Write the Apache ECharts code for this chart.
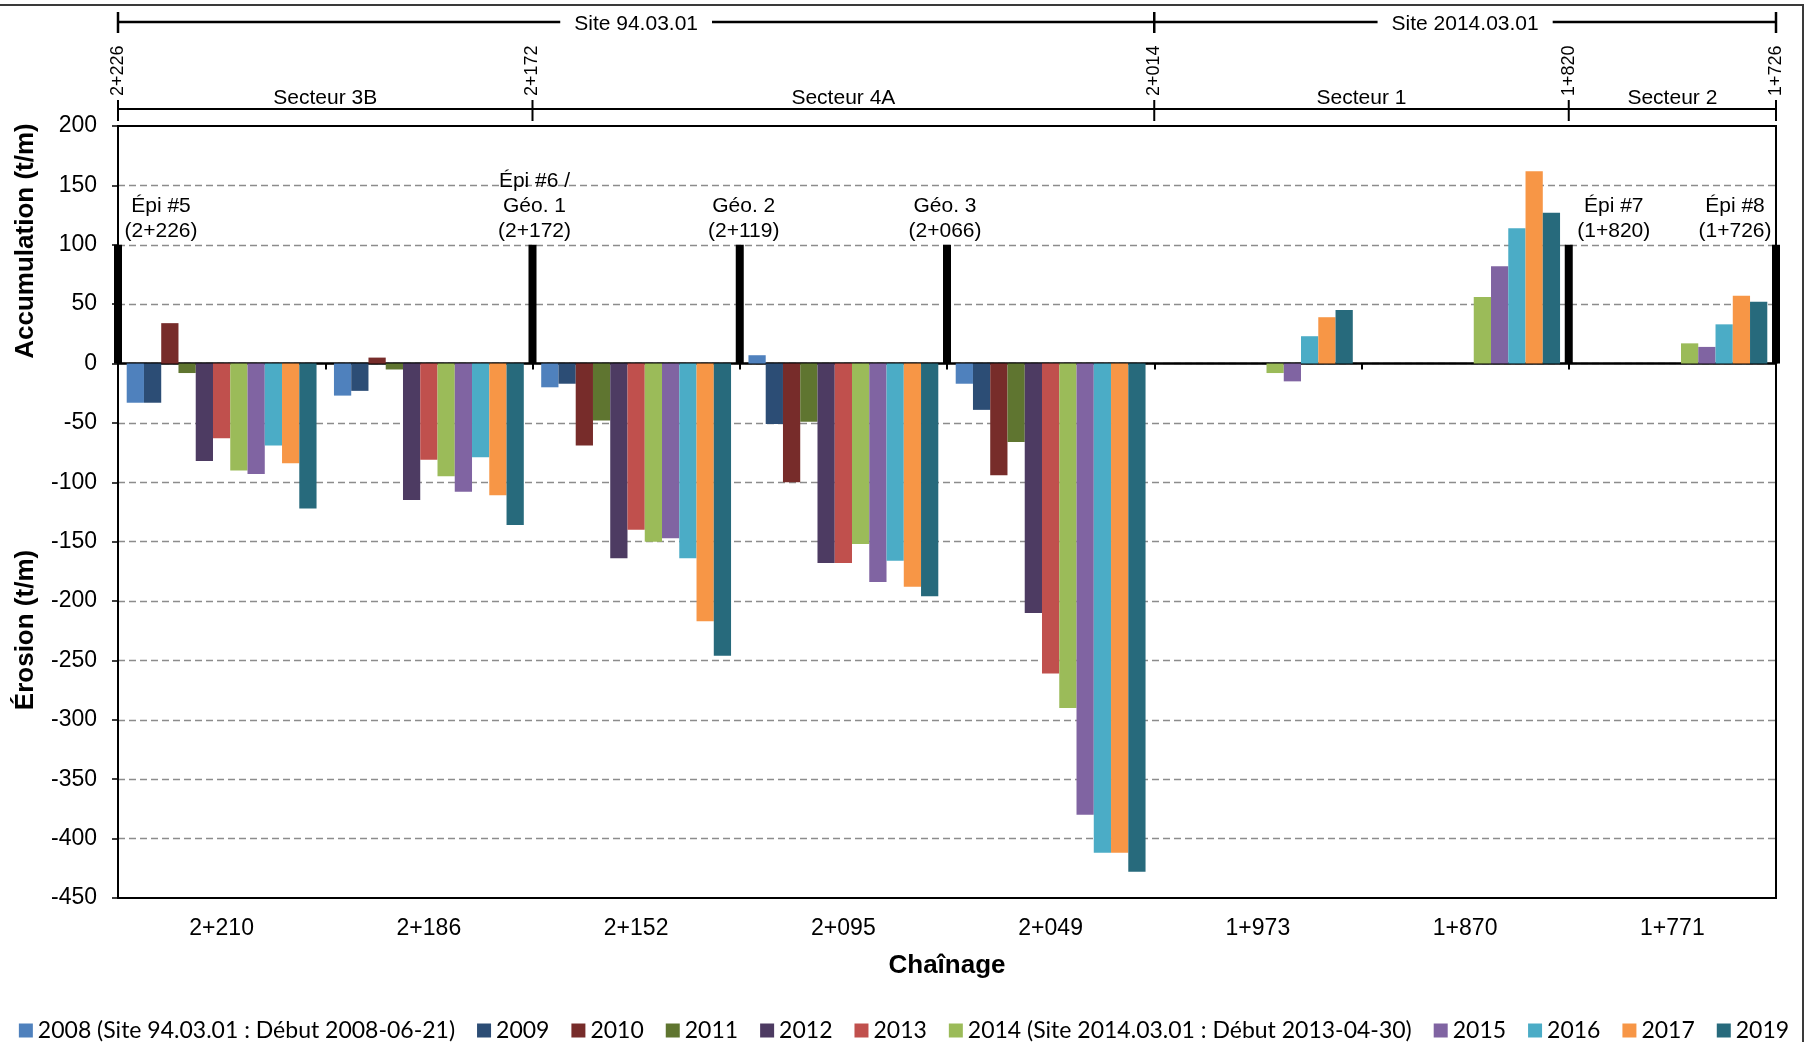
<!DOCTYPE html>
<html>
<head>
<meta charset="utf-8">
<script src="https://cdn.jsdelivr.net/npm/echarts@6/dist/echarts.min.js"></script>
<style>
html, body { margin: 0; padding: 0; background: #fff; }
#chart { width: 1808px; height: 1042px; }
</style>
</head>
<body>
<div id="chart"></div>
<script>
// chaînages (catégories)
var categories = ['2+210', '2+186', '2+152', '2+095', '2+049', '1+973', '1+870', '1+771'];

var years = ['2008 (Site 94.03.01 : Début 2008-06-21)', '2009', '2010', '2011', '2012', '2013',
    '2014 (Site 2014.03.01 : Début 2013-04-30)', '2015', '2016', '2017', '2019'];

// bilans sédimentaires (t/m)
var v2008 = [-33, -27, -20, 7, -17, null, null, null];
var v2009 = [-33, -23, -17, -51, -39, null, null, null];
var v2010 = [34, 5, -69, -100, -94, null, null, null];
var v2011 = [-8, -5, -48, -49, -66, null, null, null];
var v2012 = [-82, -115, -164, -168, -210, null, null, null];
var v2013 = [-63, -81, -140, -168, -261, null, null, null];
var v2014 = [-90, -95, -150, -152, -290, -8, 56, 17];
var v2015 = [-93, -108, -147, -184, -380, -15, 82, 14];
var v2016 = [-69, -79, -164, -166, -412, 23, 114, 33];
var v2017 = [-84, -111, -217, -188, -412, 39, 162, 57];
var v2019 = [-122, -136, -246, -196, -428, 45, 127, 52];
var values = [v2008, v2009, v2010, v2011, v2012, v2013, v2014, v2015, v2016, v2017, v2019];

// axe vertical
var yMin = -450, yMax = 200, yStep = 50;

// ouvrages (position en limites de catégories) et libellés
var markerPos = [0, 2, 3, 4, 7, 8];
var markerTop = [100, 100, 100, 100, 100, 100];
var markerLabels = ['Épi #5\n(2+226)', 'Épi #6 /\nGéo. 1\n(2+172)', 'Géo. 2\n(2+119)',
    'Géo. 3\n(2+066)', 'Épi #7\n(1+820)', 'Épi #8\n(1+726)'];

// en-tête : chaînages de limites, secteurs, sites
var limitPos = [0, 2, 5, 7, 8];
var limitLabels = ['2+226', '2+172', '2+014', '1+820', '1+726'];
var sectorNames = ['Secteur 3B', 'Secteur 4A', 'Secteur 1', 'Secteur 2'];
var sectorFrom = [0, 2, 5, 7];
var sectorTo = [2, 5, 7, 8];
var siteNames = ['Site 94.03.01', 'Site 2014.03.01'];
var siteFrom = [0, 5];
var siteTo = [5, 8];

var palette = ['#4F81BD', '#2C4D75', '#772C2A', '#5F7530', '#4D3B62', '#C0504D',
    '#9BBB59', '#8064A2', '#4BACC6', '#F79646', '#276A7C'];
var labelDx = [43, 2, 4, -2, 45, -41];

var FONT = '"Liberation Sans", Arial, sans-serif';

var myChart = echarts.init(document.getElementById('chart'));

var series = values.map(function (arr, i) {
    return {
        name: years[i],
        type: 'bar',
        xAxisIndex: 0,
        yAxisIndex: 0,
        barGap: '0%',
        barCategoryGap: '8.4%',
        data: arr,
        itemStyle: { color: palette[i] },
        emphasis: { disabled: true }
    };
});

series.push({
    type: 'custom',
    xAxisIndex: 2,
    yAxisIndex: 0,
    z: 10,
    silent: true,
    data: markerPos.map(function (p, i) { return [p, markerTop[i]]; }),
    renderItem: function (params, api) {
        var i = params.dataIndex;
        var top = api.coord([api.value(0), api.value(1)]);
        var base = api.coord([api.value(0), 0]);
        return {
            type: 'group',
            children: [
                {
                    type: 'rect',
                    shape: { x: top[0] - 4, y: top[1], width: 8, height: base[1] - top[1] },
                    style: { fill: '#000' }
                },
                {
                    type: 'text',
                    x: top[0] + labelDx[i],
                    y: top[1] - 1,
                    style: {
                        text: markerLabels[i],
                        align: 'center', textAlign: 'center',
                        verticalAlign: 'bottom', textVerticalAlign: 'bottom',
                        font: '21px ' + FONT,
                        lineHeight: 25,
                        fill: '#000'
                    }
                }
            ]
        };
    }
});

var option = {
    animation: false,
    backgroundColor: '#fff',
    textStyle: { fontFamily: FONT },
    grid: {
        left: 118, right: 32, top: 126, bottom: 144,
        containLabel: false,
        outerBoundsMode: 'none',
        show: true,
        borderColor: '#000',
        borderWidth: 2,
        backgroundColor: 'transparent'
    },
    legend: {
        data: years,
        left: 'center',
        top: 1014,
        icon: 'rect',
        itemWidth: 14,
        itemHeight: 14,
        itemGap: 22,
        selectedMode: false,
        textStyle: { fontFamily: 'Lato', fontSize: 23, color: '#000' }
    },
    xAxis: [
        {
            type: 'category',
            data: categories,
            position: 'bottom',
            axisLine: { onZero: true, lineStyle: { color: '#000', width: 2.5 } },
            axisTick: { show: true, length: 6, lineStyle: { color: '#000', width: 2 } },
            axisLabel: { show: false },
            splitLine: { show: false }
        },
        {
            type: 'category',
            data: categories,
            position: 'bottom',
            name: 'Chaînage',
            nameLocation: 'middle',
            nameGap: 55,
            nameTextStyle: { fontSize: 26, fontWeight: 'bold', color: '#000', fontFamily: FONT },
            axisLine: { onZero: false, lineStyle: { color: '#000', width: 2 } },
            axisTick: { show: false },
            axisLabel: { fontSize: 23, color: '#000', margin: 19, fontFamily: FONT },
            splitLine: { show: false }
        },
        {
            type: 'value',
            min: 0,
            max: 8,
            show: false
        }
    ],
    yAxis: {
        type: 'value',
        min: yMin,
        max: yMax,
        interval: yStep,
        axisLine: { show: true, lineStyle: { color: '#000', width: 2 } },
        axisTick: { show: true, length: 6, lineStyle: { color: '#000', width: 1.5 } },
        axisLabel: { fontSize: 23, color: '#000', margin: 21, fontFamily: FONT },
        splitLine: {
            show: true,
            showMinLine: false,
            showMaxLine: false,
            lineStyle: { color: '#8c8c8c', width: 1.3, type: [7, 4] }
        }
    },
    series: series
};

myChart.setOption(option);

// en-tête et cadre, positionnés sur les limites de catégories
function bx(k) {
    return myChart.convertToPixel({ xAxisIndex: 2 }, k);
}

function line(x1, y1, x2, y2, w) {
    return {
        type: 'line',
        shape: { x1: x1, y1: y1, x2: x2, y2: y2 },
        style: { stroke: '#000', lineWidth: w },
        silent: true
    };
}

function text(str, x, y, font, opts) {
    var st = {
        text: str,
        font: font,
        fill: '#000',
        align: 'center', textAlign: 'center',
        verticalAlign: 'middle', textVerticalAlign: 'middle'
    };
    var el = { type: 'text', x: x, y: y, style: st, silent: true, z: 20 };
    if (opts) {
        for (var k in opts) {
            if (k === 'rotation') el.rotation = opts[k];
            else st[k] = opts[k];
        }
    }
    return el;
}

var g = [];

// cadre
g.push({
    type: 'rect',
    shape: { x: -5, y: 5, width: 1808, height: 1050 },
    style: { fill: 'none', stroke: '#3a3a3a', lineWidth: 2 },
    silent: true
});

// sites
var siteY = 22;
g.push(line(bx(0), siteY, bx(8), siteY, 2.5));
[0, 5, 8].forEach(function (k) {
    g.push(line(bx(k), siteY - 10, bx(k), siteY + 11, 2.5));
});
siteNames.forEach(function (name, i) {
    g.push(text(name, (bx(siteFrom[i]) + bx(siteTo[i])) / 2, siteY + 2, '21px ' + FONT,
        { backgroundColor: '#fff', padding: [2, 14] }));
});

// secteurs
var sectY = 109;
g.push(line(bx(0), sectY, bx(8), sectY, 2));
limitPos.forEach(function (k, i) {
    g.push(line(bx(k), sectY - 9, bx(k), sectY + 12, 2));
    g.push(text(limitLabels[i], bx(k), sectY - 13, '18px ' + FONT,
        { rotation: Math.PI / 2, align: 'left', textAlign: 'left' }));
});
sectorNames.forEach(function (name, i) {
    g.push(text(name, (bx(sectorFrom[i]) + bx(sectorTo[i])) / 2, 98, '21px ' + FONT));
});

// titres de l'axe vertical
g.push(text('Accumulation (t/m)', 26, 241, 'bold 26px ' + FONT, { rotation: Math.PI / 2 }));
g.push(text('Érosion (t/m)', 26, 630, 'bold 26px ' + FONT, { rotation: Math.PI / 2 }));

myChart.setOption({ graphic: { elements: g } });
</script>
</body>
</html>
